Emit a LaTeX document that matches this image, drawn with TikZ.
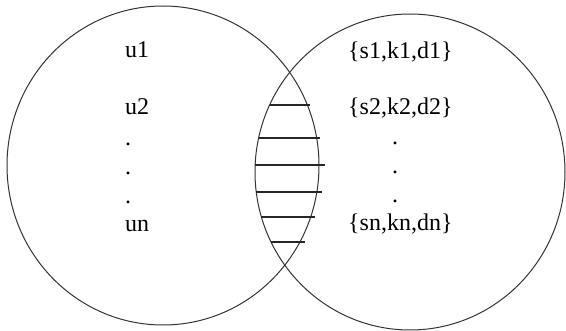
\documentclass[tikz,border=0pt]{standalone}
\usepackage{fontspec}
\setmainfont{Liberation Serif}
\begin{document}
\begin{tikzpicture}[x=1pt,y=-1pt,
  circ/.style={draw=black!80, line width=1pt},
  hatch/.style={draw=black!85, line width=1.1pt},
  lbl/.style={anchor=base west, inner sep=0pt, font=\fontsize{24}{28}\selectfont}]
\useasboundingbox (0,0) rectangle (566,331);
\draw[circ] (163,165.5) ellipse [x radius=156pt, y radius=159.5pt];
\draw[circ] (410,172) ellipse [x radius=155pt, y radius=158pt];
% hatching in the overlap
\draw[hatch] (270,105) -- (310,105);
\draw[hatch] (259,138) -- (320,138);
\draw[hatch] (255,165) -- (325,165);
\draw[hatch] (256,192) -- (322,192);
\draw[hatch] (261,217) -- (315,217);
\draw[hatch] (271,242) -- (305,242);
% left set
\node[lbl] (u1) at (125,58) {u1};
\node[lbl] (u2) at (125,115) {u2};
\node[lbl] (ld1) at (125,146) {.};
\node[lbl] (ld2) at (125,175) {.};
\node[lbl] (ld3) at (125,204) {.};
\node[lbl] (un) at (125,232) {un};
% right set
\node[lbl] (s1) at (348,59) {\{s1,k1,d1\}};
\node[lbl] (s2) at (348,115) {\{s2,k2,d2\}};
\node[lbl] (rd1) at (392,145) {.};
\node[lbl] (rd2) at (392,174) {.};
\node[lbl] (rd3) at (392,203) {.};
\node[lbl] (sn) at (348,231) {\{sn,kn,dn\}};
\end{tikzpicture}
\end{document}
